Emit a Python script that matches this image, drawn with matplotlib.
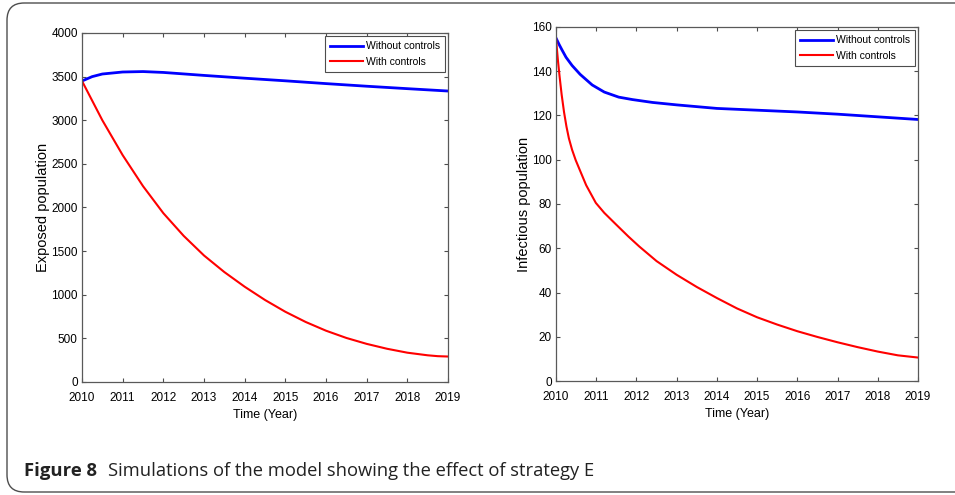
import matplotlib.pyplot as plt
from matplotlib.patches import FancyBboxPatch

# exposed population (left panel)
yrs_e_blue = [2010, 2010.25, 2010.5, 2011, 2011.5, 2012, 2013, 2014, 2015, 2016, 2017, 2018, 2019]
exp_without = [3450, 3500, 3530, 3553, 3558, 3548, 3514, 3482, 3452, 3420, 3390, 3362, 3335]
yrs_e_red = [2010, 2010.5, 2011, 2011.5, 2012, 2012.5, 2013, 2013.5, 2014, 2014.5, 2015,
             2015.5, 2016, 2016.5, 2017, 2017.5, 2018, 2018.5, 2018.75, 2019]
exp_with = [3450, 3000, 2600, 2245, 1935, 1675, 1450, 1260, 1092, 940, 805,
            688, 588, 505, 437, 381, 336, 306, 296, 292]

# infectious population (right panel)
yrs_i_blue = [2010, 2010.08, 2010.15, 2010.25, 2010.4, 2010.6, 2010.9, 2011.2, 2011.56, 2011.9,
              2012.4, 2013, 2014, 2015, 2016, 2017, 2018, 2019]
inf_without = [155, 152, 149.6, 146.3, 142.6, 138.6, 133.8, 130.6, 128.3, 127.2,
               125.9, 124.8, 123.2, 122.4, 121.6, 120.6, 119.4, 118.2]
yrs_i_red = [2010, 2010.02, 2010.05, 2010.09, 2010.14, 2010.2, 2010.26, 2010.32, 2010.4,
             2010.49, 2010.6, 2010.75, 2010.99, 2011.2, 2011.49, 2011.8, 2012.07, 2012.5,
             2013, 2013.5, 2014, 2014.5, 2015, 2015.5, 2016, 2016.5, 2017, 2017.5, 2018,
             2018.5, 2019]
inf_with = [155, 150.5, 144.5, 137.5, 129.5, 121.5, 115, 109.7, 104.5,
            99.8, 95, 88.5, 80.5, 76.0, 70.8, 65.3, 60.8, 54.2,
            48, 42.5, 37.5, 32.8, 28.8, 25.5, 22.5, 19.9, 17.5, 15.3, 13.3,
            11.6, 10.6]

years = list(range(2010, 2020))

plt.rcParams['font.family'] = ['Liberation Sans', 'DejaVu Sans']

fig = plt.figure(figsize=(9.55, 4.95), dpi=100)
fig.patch.set_facecolor('white')

# rounded frame around the figure (right edge runs off the image)
frame = FancyBboxPatch((7 / 955, 3 / 495), 1.2, 489 / 495,
                       boxstyle='round,pad=0,rounding_size=0.018',
                       transform=fig.transFigure, facecolor='none',
                       edgecolor='0.3', linewidth=1.0, mutation_aspect=955 / 495)
fig.patches.append(frame)

ax1 = fig.add_axes([82 / 955, 113 / 495, 366 / 955, 349 / 495])
ax2 = fig.add_axes([556 / 955, 114 / 495, 362 / 955, 354 / 495])

ax1.plot(yrs_e_blue, exp_without, color='#0000ff', lw=2.0, label='Without controls')
ax1.plot(yrs_e_red, exp_with, color='#ff0000', lw=1.5, label='With controls')
ax1.set_ylim(0, 4000)
ax1.set_yticks(range(0, 4001, 500))
ax1.set_ylabel('Exposed population', fontsize=10.5, labelpad=1)

ax2.plot(yrs_i_blue, inf_without, color='#0000ff', lw=2.0, label='Without controls')
ax2.plot(yrs_i_red, inf_with, color='#ff0000', lw=1.5, label='With controls')
ax2.set_ylim(0, 160)
ax2.set_yticks(range(0, 161, 20))
ax2.set_ylabel('Infectious population', fontsize=10.5, labelpad=1)

for ax in (ax1, ax2):
    ax.set_xlim(2010, 2019)
    ax.set_xticks(years)
    ax.set_xlabel('Time (Year)', fontsize=9, labelpad=3)
    ax.tick_params(direction='in', top=True, right=True, length=3, width=0.8,
                   color='0.3', labelsize=8.5)
    ax.tick_params(axis='x', pad=7.5)
    ax.tick_params(axis='y', pad=3)
    for s in ax.spines.values():
        s.set_color('0.35')
        s.set_linewidth(0.9)
    leg = ax.legend(loc='upper right', fontsize=7.5, handlelength=3.2,
                    fancybox=False, borderaxespad=0.3, borderpad=0.5,
                    labelspacing=0.5, handletextpad=0.2, framealpha=1)
    leg.get_frame().set_edgecolor('0.3')
    leg.get_frame().set_linewidth(0.8)

fig.text(24 / 955, 1 - 476 / 495, 'Figure 8', fontsize=13.3, fontweight='bold',
         family='Open Sans', color='#222222')
fig.text(108 / 955, 1 - 476 / 495, 'Simulations of the model showing the effect of strategy E',
         fontsize=13.2, family='Open Sans', color='#222222')

fig.savefig('out.png', dpi=100, facecolor='white')
